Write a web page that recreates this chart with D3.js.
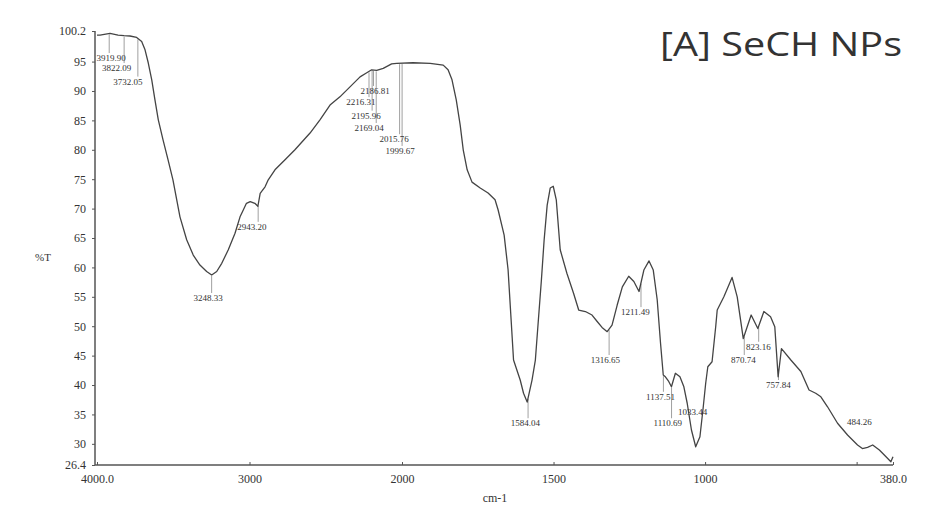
<!DOCTYPE html>
<meta charset="utf-8">
<style>
body { margin: 0; background: #fff; }
text { font-family: "Liberation Serif", "DejaVu Serif", serif; fill: #333; }
.axis line, .axis path { stroke: #555; }
.drop { stroke: #888; stroke-width: 0.8px; }
</style>
<svg width="935" height="519"></svg>
<script src="https://cdn.jsdelivr.net/npm/d3@7/dist/d3.min.js"></script>
<script>

// spectrum (cm-1, %T)
var wavenumber = [4000,3980,3915,3862,3823,3784,3740,3707,3685,3664,
  3641,3620,3598,3567,3534,3502,3456,3412,3369,3325,
  3281,3248,3215,3182,3139,3095,3062,3040,3020,2995,
  2965,2945,2930,2898,2877,2833,2767,2702,2603,2538,
  2472,2407,2341,2275,2231,2199,2166,2123,2068,2035,
  1964,1907,1864,1848,1835,1821,1808,1798,1785,1769,
  1742,1716,1693,1683,1663,1650,1640,1632,1610,1599,
  1587,1571,1560,1550,1540,1531,1521,1511,1501,1491,
  1478,1456,1434,1417,1395,1373,1356,1340,1323,1307,
  1290,1273,1252,1235,1218,1202,1185,1171,1158,1147,
  1138,1131,1120,1111,1098,1083,1070,1059,1045,1031,
  1017,1006,998,991,977,965,960,938,911,894,
  874,848,826,806,784,770,759,748,717,684,
  657,635,618,596,563,530,497,481,464,447,
  425,403,387,380];
var transmittance = [99.5,99.5,99.8,99.5,99.4,99.35,99.1,98.4,97.0,94.8,
  91.9,88.5,85.1,81.7,78.3,74.9,68.6,64.7,62.1,60.4,
  59.3,58.7,59.3,60.7,63.0,65.8,68.6,69.8,70.9,71.2,
  70.9,70.4,72.6,73.7,74.9,76.6,78.3,80.0,82.85,85.1,
  87.6,89.0,90.7,92.4,93.1,93.6,93.5,93.85,94.6,94.7,
  94.8,94.7,94.4,93.6,91.9,88.5,84.2,80.0,76.6,74.5,
  73.5,72.65,71.5,69.8,65.5,59.6,51.1,44.25,40.85,38.6,
  37.1,40.85,44.25,51.1,57.9,64.7,70.6,73.5,73.8,71.5,
  63.0,59.0,55.6,52.75,52.5,51.9,50.8,49.8,49.07,50.2,
  53.6,56.7,58.5,57.6,55.9,59.55,61.1,59.55,54.5,47.1,
  41.7,41.4,40.6,39.7,42.0,41.4,39.7,36.9,32.35,29.5,
  31.2,36.3,40.3,43.1,43.95,49.9,52.75,55.0,58.3,55.0,
  47.9,51.9,49.6,52.5,51.6,49.9,41.4,46.2,44.25,42.3,
  39.15,38.6,38.0,36.3,33.5,31.5,29.8,29.2,29.4,29.8,
  28.95,27.8,26.95,27.8];

// peak annotations: text, where the text sits (cm-1, %T)
var peakLabels = ["3919.90","3822.09","3732.05","3248.33","2943.20","2186.81","2216.31","2195.96",
  "2169.04","2015.76","1999.67","1584.04","1316.65","1211.49","1137.51","1110.69","1033.44",
  "870.74","823.16","757.84","484.26"];
var peakTextX = [3908,3872,3797,3272,2984,2177,2269,2236,2216,2052,2013,1593,1329,1230,1147,1123,1041,874,824,758,491];
var peakTextY = [95.6,93.9,91.6,54.8,66.9,90.0,88.1,85.8,83.7,81.8,79.8,33.5,44.25,52.4,38.0,33.5,35.4,44.25,46.5,40.0,33.7];

var xTicks = [4000,3000,2000,1500,1000,500,380];
var xTickLabels = ["4000.0","3000","2000","1500","1000","","380.0"];
var yTicks = [100.2,95,90,85,80,75,70,65,60,55,50,45,40,35,30,26.4];
var yTickLabels = ["100.2","95","90","85","80","75","70","65","60","55","50","45","40","35","30","26.4"];

var svg = d3.select("svg");

// instrument scale: 2x expansion below 2000 cm-1
var x = d3.scaleLinear().domain([4000, 2000, 380]).range([97, 402, 893]);
var y = d3.scaleLinear().domain([26.4, 100.2]).range([465, 31]);

var xAxis = d3.axisBottom(x).tickValues(xTicks).tickSize(-3).tickPadding(9)
  .tickFormat(function(d, i) { return xTickLabels[i]; });
var gx = svg.append("g").attr("class", "axis").attr("transform", "translate(0," + y(26.4) + ")").call(xAxis);
gx.select(".domain").attr("d", "M" + (x(4000) - 2) + ",0H" + x(380)).attr("stroke-width", 1.5);
gx.selectAll("text").attr("font-size", 12).attr("fill", "#333");

var yAxis = d3.axisLeft(y).tickValues(yTicks).tickSize(3).tickPadding(6)
  .tickFormat(function(d, i) { return yTickLabels[i]; });
var gy = svg.append("g").attr("class", "axis").attr("transform", "translate(" + (x(4000) - 2) + ",0)").call(yAxis);
gy.select(".domain").attr("d", "M0," + y(100.2) + "V" + y(26.4)).attr("stroke-width", 1.5);
gy.selectAll("text").attr("font-size", 12).attr("fill", "#333");

svg.append("text").attr("x", 43).attr("y", 257).attr("text-anchor", "middle")
  .attr("dominant-baseline", "central").attr("font-size", 11).text("%T");
svg.append("text").attr("x", 495).attr("y", 498).attr("text-anchor", "middle")
  .attr("dominant-baseline", "central").attr("font-size", 12).text("cm-1");

var spectrum = wavenumber.map(function(w, i) { return [w, transmittance[i]]; });

function valueAt(w) {
  for (var i = 0; i < wavenumber.length - 1; i++) {
    if (wavenumber[i] >= w && wavenumber[i + 1] <= w) {
      var t = (wavenumber[i] - w) / (wavenumber[i] - wavenumber[i + 1]);
      return transmittance[i] + t * (transmittance[i + 1] - transmittance[i]);
    }
  }
  return transmittance[transmittance.length - 1];
}

// drop lines from the curve to each label
peakLabels.forEach(function(lab, i) {
  var w = +lab;
  var cy = y(valueAt(w));
  var ty = y(peakTextY[i]) - 5;
  if (ty > cy + 2) {
    svg.append("line").attr("class", "drop")
      .attr("x1", x(w)).attr("x2", x(w)).attr("y1", cy + 1).attr("y2", ty);
  }
});

svg.append("path").datum(spectrum)
  .attr("fill", "none").attr("stroke", "#444").attr("stroke-width", 1.3)
  .attr("stroke-linejoin", "round")
  .attr("d", d3.line().x(function(d) { return x(d[0]); }).y(function(d) { return y(d[1]); }));

svg.append("g").selectAll("text").data(peakLabels).enter().append("text")
  .attr("x", function(d, i) { return x(peakTextX[i]); })
  .attr("y", function(d, i) { return y(peakTextY[i]); })
  .attr("text-anchor", "middle").attr("dominant-baseline", "central")
  .attr("font-size", 9).attr("fill", "#333")
  .text(function(d) { return d; });

svg.append("text").attr("x", 660).attr("y", 56)
  .attr("font-size", 33).attr("fill", "#222").style("font-family", "'Open Sans', sans-serif")
  .attr("textLength", 242).attr("lengthAdjust", "spacingAndGlyphs")
  .text("[A] SeCH NPs");

</script>
